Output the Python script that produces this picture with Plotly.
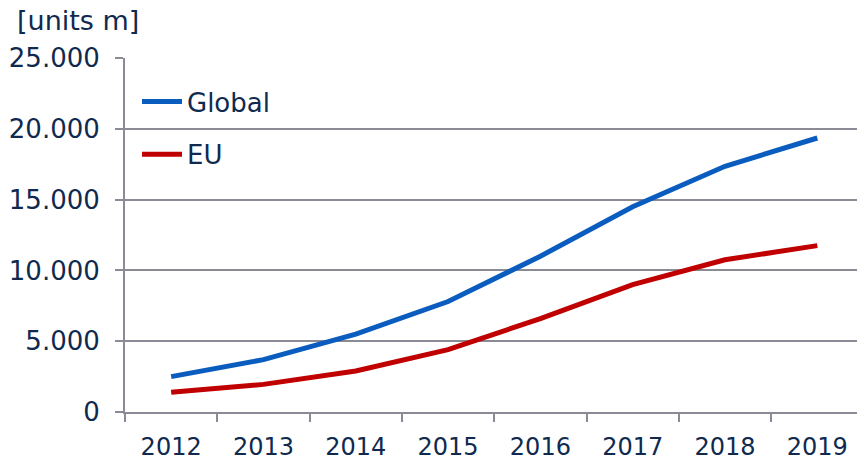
import plotly.graph_objects as go

years = ["2012", "2013", "2014", "2015", "2016", "2017", "2018", "2019"]
global_units = [2500, 3700, 5500, 7800, 11000, 14500, 17350, 19350]
eu_units = [1400, 1950, 2900, 4400, 6600, 9000, 10750, 11750]
y_ticks = [0, 5000, 10000, 15000, 20000, 25000]

TEXT = "#0F2A4E"
GRID = "#8B8B96"
FONT = "DejaVu Sans"
FS = 26

fig = go.Figure()
fig.add_trace(go.Scatter(x=years, y=global_units, name="Global", mode="lines",
                         legendgroup="g", line=dict(color="#0B5CBF", width=5)))
fig.add_trace(go.Scatter(x=years, y=eu_units, name="EU", mode="lines",
                         legendgroup="e", line=dict(color="#C00000", width=5)))

PW, PH = 732, 354
fig.update_layout(
    width=857, height=461,
    margin=dict(l=125, r=0, t=58, b=49),
    paper_bgcolor="white", plot_bgcolor="white",
    separators=",.",
    font=dict(family=FONT, size=FS, color=TEXT),
    showlegend=True,
    legend=dict(x=12 / PW, y=1 - 20 / PH, xanchor="left", yanchor="top",
                bgcolor="rgba(0,0,0,0)", font=dict(size=FS, color=TEXT),
                tracegroupgap=16, itemwidth=40),
    xaxis=dict(type="category", range=[-0.5, 7.43], tickson="boundaries",
               automargin=False,
               showgrid=False, showline=True, linecolor=GRID, linewidth=2,
               ticks="outside", ticklen=8, tickcolor=GRID, tickwidth=2,
               ticklabelstandoff=12, tickfont=dict(size=24, color=TEXT)),
    yaxis=dict(range=[0, 25000], tickvals=y_ticks, tickformat=",d",
               automargin=False,
               showgrid=True, gridcolor=GRID, gridwidth=2, zeroline=False,
               showline=True, linecolor=GRID, linewidth=2,
               ticks="outside", ticklen=8, tickcolor=GRID, tickwidth=2,
               ticklabelstandoff=10, tickfont=dict(size=FS, color=TEXT)),
    annotations=[dict(text="[units m]", xref="paper", yref="paper",
                      x=(15 - 125) / PW, y=1 + 38 / PH, xanchor="left", yanchor="middle",
                      showarrow=False, font=dict(size=27, color=TEXT))],
)

fig.write_html("out.html", config={"displayModeBar": False},
               post_script="document.body.style.margin='0';document.body.style.overflow='hidden';")
